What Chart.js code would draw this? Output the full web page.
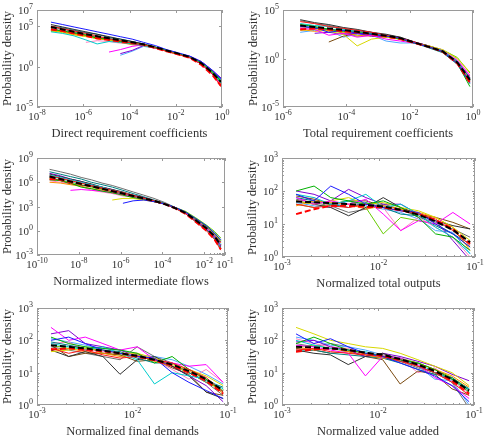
<!DOCTYPE html>
<html>
<head>
<meta charset="utf-8">
<script src="https://cdn.jsdelivr.net/npm/chart.js@4"></script>
<style>
  html, body { margin: 0; padding: 0; background: #fff; }
  #wrap { position: relative; width: 489px; height: 442px; overflow: hidden; }
  #wrap canvas { position: absolute; left: 0; top: 0; }
</style>
</head>
<body>
<div id="wrap">
  <canvas id="p1" width="489" height="442"></canvas>
  <canvas id="p2" width="489" height="442"></canvas>
  <canvas id="p3" width="489" height="442"></canvas>
  <canvas id="p4" width="489" height="442"></canvas>
  <canvas id="p5" width="489" height="442"></canvas>
  <canvas id="p6" width="489" height="442"></canvas>
</div>
<script>
// Bin centres (x) for each panel.
const directX = [4e-8, 1.3e-7, 4e-7, 1.3e-6, 4e-6, 1.3e-5, 4e-5, 1.3e-4, 4e-4, 1.3e-3, 4e-3, 1.3e-2, 4e-2, 1.3e-1, 4e-1, 0.9];
const totalX = [3.5e-6, 1e-5, 2.8e-5, 8e-5, 2.2e-4, 6.3e-4, 1.8e-3, 5e-3, 1.4e-2, 4e-2, 1.1e-1, 3.2e-1, 0.8];
const flowX = [4e-10, 1.3e-9, 4e-9, 1.3e-8, 4e-8, 1.3e-7, 4e-7, 1.3e-6, 4e-6, 1.3e-5, 4e-5, 1.3e-4, 4e-4, 1.3e-3, 4e-3, 1.3e-2, 3.2e-2, 6.3e-2];
const normX = [1.4e-3, 2.15e-3, 3.2e-3, 4.9e-3, 7.4e-3, 1.12e-2, 1.7e-2, 2.6e-2, 3.9e-2, 5.9e-2, 8.9e-2];

const directLog = [
  [5.5, 5.2, 4.9, 4.6, 4.3, 4.0, 3.7, 3.4, 3.0, 2.6, 2.1, 1.7, 1.3, 0.6, -0.5, -1.5],
  [5.0, 4.7, 4.4, 4.1, 3.8, 3.4, 3.2, 2.9, 2.7, 2.3, 1.9, 1.5, 1.1, 0.3, -1.0, -2.5],
  [4.6, 4.4, 4.2, 3.9, 3.5, 3.4, 3.1, 2.9, 2.7, 2.4, 2.0, 1.6, 1.2, 0.5, -0.7, -1.8],
  [4.3, 4.1, 3.8, 3.3, 2.8, 3.1, 3.0, 2.8, 2.6, 2.3, 2.0, 1.6, 1.2, 0.4, -0.8, -2.0],
  [null, null, null, null, null, 1.8, 2.1, 2.5, 2.7, 2.3, 2.0, 1.6, 1.1, 0.3, -1.0, -2.3],
  [4.4, 4.2, 3.9, 3.7, 3.5, 3.3, 3.1, 2.8, 2.6, 2.3, 2.0, 1.6, 1.2, 0.5, -0.7, -1.9],
  [5.2, 4.9, 4.6, 4.3, 4.0, 3.7, 3.4, 3.1, 2.8, 2.4, 2.0, 1.6, 1.2, 0.4, -0.8, -2.0],
  [null, null, null, null, null, null, 1.6, 2.0, 2.6, 2.3, 2.0, 1.6, 1.3, 0.6, -0.5, -1.4],
  [4.5, 4.3, 4.0, 3.8, 3.4, 3.3, 3.0, 2.7, 2.6, 2.3, 1.9, 1.5, 1.1, 0.3, -1.0, -2.2],
  [5.0, 4.8, 4.5, 4.2, 4.0, 3.6, 3.4, 3.1, 2.8, 2.4, 2.0, 1.6, 1.2, 0.6, -0.6, -1.7],
  [4.7, 4.4, 4.1, 3.8, 3.6, 3.3, 3.0, 2.8, 2.6, 2.3, 1.9, 1.5, 1.1, 0.3, -0.9, -2.2],
  [null, null, null, 3.0, 3.2, 3.1, 2.9, 2.8, 2.6, 2.3, 2.0, 1.6, 1.2, 0.4, -0.9, -2.1],
  [null, null, null, null, null, null, 1.4, 1.9, 2.5, 2.3, 2.0, 1.6, 1.2, 0.5, -0.6, -1.5],
  [4.9, 4.6, 4.3, 4.0, 3.7, 3.5, 3.2, 3.0, 2.7, 2.4, 2.0, 1.6, 1.2, 0.5, -0.7, -1.8],
  [4.4, 4.3, 4.1, 3.8, 3.6, 3.4, 3.2, 2.9, 2.7, 2.4, 2.0, 1.6, 1.2, 0.5, -0.8, -2.0],
];
const directMean = [4.9, 4.6, 4.3, 4.0, 3.75, 3.5, 3.25, 3.0, 2.75, 2.4, 2.0, 1.6, 1.2, 0.4, -0.8, -1.9];
const directRed = [4.6, 4.4, 4.1, 3.8, 3.5, 3.3, 3.1, 2.9, 2.7, 2.3, 1.9, 1.5, 1.1, 0.2, -1.1, -2.4];

const totalLog = [
  [3.3, 3.2, 2.7, 2.9, 2.6, 2.5, 2.3, 2.1, 1.6, 1.2, 0.7, -0.5, -2.5],
  [3.8, 3.6, 3.3, 3.1, 2.9, 2.7, 2.4, 2.1, 1.7, 1.2, 0.7, -0.5, -2.4],
  [3.5, 3.3, 3.0, 2.8, 2.7, 2.5, 2.3, 2.0, 1.6, 1.2, 0.7, -0.5, -2.9],
  [3.6, 3.4, 3.3, 3.0, 2.8, 2.6, 2.4, 2.1, 1.6, 1.2, 0.8, -0.3, -2.1],
  [3.1, 3.0, 2.4, 2.6, 2.2, 2.4, 2.0, 1.8, 1.6, 1.2, 0.8, -0.2, -1.8],
  [2.9, 3.0, 2.8, 2.5, 1.3, 2.0, 2.2, 2.0, 1.6, 1.3, 0.9, 0.0, -1.4],
  [4.0, 3.7, 3.5, 3.2, 3.0, 2.7, 2.5, 2.2, 1.7, 1.3, 0.8, -0.3, -2.0],
  [null, 2.6, 2.7, 2.5, 2.6, 2.3, 2.2, 2.1, 1.7, 1.3, 0.8, -0.3, -2.0],
  [3.0, 2.8, 2.9, 2.7, 2.4, 2.3, 2.2, 2.0, 1.6, 1.2, 0.7, -0.4, -2.2],
  [3.4, 3.1, 3.0, 2.9, 2.8, 2.6, 2.3, 2.1, 1.6, 1.1, 0.6, -0.6, -2.6],
  [null, null, 1.7, 2.3, 2.6, 2.5, 2.3, 2.1, 1.6, 1.2, 0.7, -0.4, -2.3],
  [3.2, 3.1, 2.9, 2.8, 2.6, 2.6, 2.3, 2.1, 1.7, 1.3, 0.9, -0.1, -1.7],
  [2.7, 2.9, 2.9, 2.2, 2.5, 2.4, 1.8, 1.6, 1.6, 1.2, 0.7, -0.4, -2.3],
  [3.9, 3.6, 3.4, 3.1, 2.9, 2.7, 2.4, 2.2, 1.7, 1.2, 0.7, -0.4, -2.2],
  [3.2, 3.2, 3.0, 2.6, 2.3, 2.4, 2.2, 2.0, 1.6, 1.3, 0.9, 0.1, -1.5],
];
const totalMean = [3.4, 3.25, 3.1, 2.95, 2.75, 2.55, 2.35, 2.1, 1.65, 1.2, 0.75, -0.4, -2.2];
const totalRed = [3.0, 3.1, 3.0, 2.8, 2.7, 2.5, 2.3, 2.0, 1.6, 1.2, 0.7, -0.5, -2.5];

const flowLog = [
  [null, null, null, null, null, null, null, 3.4, 3.7, 3.8, 3.6, 3.3, 2.9, 2.3, 1.5, 0.6, -0.3, -1.1],
  [6.8, 6.5, 6.2, 5.9, 5.6, 5.3, 5.0, 4.7, 4.4, 4.0, 3.7, 3.3, 2.8, 2.1, 1.1, 0.0, -1.1, -2.4],
  [6.3, 6.2, 5.9, 5.4, 5.2, 4.9, 4.7, 4.4, 4.1, 3.9, 3.6, 3.3, 2.9, 2.3, 1.5, 0.6, -0.3, -1.2],
  [6.9, 6.6, 6.3, 6.0, 5.7, 5.4, 5.0, 4.7, 4.4, 4.0, 3.7, 3.3, 2.8, 2.1, 1.1, 0.1, -1.0, -2.1],
  [null, null, 5.0, 5.1, 5.0, 4.9, 4.7, 4.5, 4.2, 3.9, 3.6, 3.3, 2.8, 2.2, 1.2, 0.3, -0.8, -1.9],
  [null, null, null, null, null, null, 3.8, 4.0, 4.0, 3.8, 3.6, 3.3, 2.8, 2.3, 1.4, 0.5, -0.4, -1.3],
  [7.0, 6.7, 6.4, 6.1, 5.8, 5.4, 5.1, 4.8, 4.4, 4.1, 3.7, 3.3, 2.8, 2.2, 1.2, 0.2, -0.9, -2.0],
  [7.1, 6.8, 6.4, 6.1, 5.7, 5.4, 5.1, 4.7, 4.4, 4.1, 3.7, 3.3, 2.9, 2.3, 1.4, 0.5, -0.5, -1.4],
  [6.0, 5.9, 5.7, 5.5, 5.2, 5.0, 4.7, 4.5, 4.2, 3.9, 3.6, 3.3, 2.8, 2.3, 1.4, 0.5, -0.5, -1.5],
  [7.3, 7.0, 6.7, 6.4, 6.0, 5.7, 5.4, 5.0, 4.6, 4.2, 3.8, 3.4, 2.9, 2.2, 1.3, 0.3, -0.7, -1.8],
  [6.6, 6.2, 5.8, 5.6, 5.5, 5.2, 4.8, 4.6, 4.3, 4.0, 3.7, 3.3, 2.8, 2.2, 1.2, 0.2, -1.0, -2.2],
  [6.2, 6.0, 5.8, 5.5, 5.0, 4.8, 4.6, 4.3, 4.2, 3.9, 3.6, 3.3, 2.8, 2.2, 1.2, 0.3, -0.8, -1.9],
  [6.7, 6.5, 6.1, 5.9, 5.5, 5.3, 5.0, 4.7, 4.3, 4.0, 3.7, 3.3, 2.9, 2.3, 1.3, 0.4, -0.6, -1.6],
  [7.6, 7.3, 7.0, 6.6, 6.3, 5.9, 5.6, 5.2, 4.8, 4.4, 4.0, 3.5, 2.9, 2.3, 1.4, 0.4, -0.6, -1.4],
  [6.5, 6.3, 6.0, 5.7, 5.4, 5.1, 4.8, 4.5, 4.2, 3.9, 3.6, 3.3, 2.9, 2.4, 1.6, 0.7, -0.1, -0.9],
];
const flowMean = [6.7, 6.4, 6.1, 5.8, 5.5, 5.2, 4.9, 4.6, 4.3, 4.0, 3.7, 3.3, 2.8, 2.2, 1.3, 0.3, -0.7, -1.8];
const flowRed = [6.4, 6.3, 6.0, 5.8, 5.5, 5.2, 4.9, 4.6, 4.3, 4.0, 3.7, 3.3, 2.8, 2.1, 1.1, 0.0, -1.1, -2.3];

const outputLog = [
  [1.9, 1.7, 2.15, 1.9, 1.6, 1.5, 1.4, 1.35, 1.0, 0.7, 0.3],
  [1.6, 1.5, 1.55, 1.5, 1.6, 1.5, 1.4, 1.3, 1.15, 0.8, 0.35],
  [2.0, 2.15, 1.8, 1.7, 1.6, 1.7, 1.5, 1.2, 0.7, 0.6, 0.2],
  [1.9, 1.8, 1.6, 1.7, 1.9, 1.5, 1.6, 1.3, 0.9, 0.6, 0.1],
  [1.8, 1.6, 1.7, 1.6, 1.75, 1.3, 0.8, 1.1, 1.0, 1.35, 1.0],
  [1.7, 1.6, 1.7, 1.8, 1.6, 1.65, 1.5, 1.4, 1.2, 0.9, 0.5],
  [1.7, 1.6, 1.5, 1.25, 1.5, 1.8, 1.5, 1.3, 1.1, 0.95, 0.85],
  [2.0, 1.9, 1.7, 2.05, 1.8, 1.6, 1.6, 1.3, 1.1, 0.5, -0.1],
  [1.55, 1.7, 1.65, 1.6, 1.45, 1.55, 1.45, 1.35, 1.2, 0.9, 0.2],
  [1.8, 1.7, 1.6, 1.5, 1.65, 1.5, 1.3, 1.25, 0.95, 0.7, 0.4],
  [1.85, 1.75, 1.6, 1.7, 1.7, 1.55, 1.45, 1.3, 1.2, 1.05, 0.85],
  [1.7, 1.8, 1.5, 1.6, 1.6, 1.5, 0.8, 1.2, 0.9, 0.6, 0.0],
  [1.65, 1.55, 1.5, 1.7, 1.55, 1.45, 1.35, 1.15, 0.8, 0.75, 0.1],
  [1.75, 1.65, 1.55, 1.35, 1.45, 1.6, 1.45, 1.2, 1.05, 0.85, 0.6],
  [1.6, 1.5, 1.6, 1.7, 1.5, 0.7, 1.2, 1.1, 1.0, 0.7, 0.3],
];
const outputMean = [1.68, 1.66, 1.63, 1.6, 1.57, 1.53, 1.43, 1.28, 1.08, 0.82, 0.45];
const outputRed = [1.3, 1.45, 1.55, 1.55, 1.52, 1.5, 1.42, 1.3, 1.12, 0.85, 0.4];

const demandLog = [
  [2.0, 2.1, 1.9, 1.7, 1.6, 1.5, 1.45, 1.0, 0.7, 0.45, 0.2],
  [1.75, 1.6, 1.7, 1.55, 1.45, 1.5, 1.4, 1.3, 1.1, 0.85, 0.4],
  [2.1, 1.9, 1.8, 1.75, 1.7, 1.6, 1.3, 1.5, 1.1, 0.8, 0.4],
  [1.9, 1.8, 1.7, 1.8, 1.6, 1.4, 0.65, 1.0, 0.9, 0.8, 0.5],
  [2.4, 2.0, 2.1, 1.9, 1.7, 1.8, 1.4, 1.3, 1.2, 1.25, 0.7],
  [1.65, 1.7, 1.75, 1.7, 1.6, 1.6, 1.45, 1.25, 1.1, 0.9, 0.6],
  [1.7, 1.5, 1.65, 1.5, 0.95, 1.4, 1.5, 1.2, 0.9, 0.4, 0.2],
  [2.2, 2.3, 1.9, 1.8, 1.7, 1.5, 1.4, 1.2, 0.9, 0.6, 0.1],
  [1.7, 1.75, 1.65, 1.6, 1.5, 1.55, 1.35, 1.2, 1.05, 0.8, 0.35],
  [1.95, 1.85, 1.75, 1.7, 1.65, 1.45, 1.3, 1.3, 1.0, 0.75, 0.55],
  [1.85, 1.5, 1.6, 1.6, 1.55, 1.35, 1.4, 1.15, 0.95, 0.4, 0.3],
  [1.9, 1.95, 1.7, 1.65, 1.6, 1.6, 1.4, 1.1, 0.8, 1.1, 0.7],
  [2.05, 1.95, 1.85, 1.75, 1.7, 1.55, 1.5, 1.4, 1.2, 0.95, 0.65],
  [1.8, 1.7, 1.6, 1.5, 1.4, 1.8, 1.5, 1.3, 1.0, 0.7, 0.3],
  [1.85, 1.75, 1.8, 1.6, 1.55, 1.5, 1.45, 1.2, 1.0, 0.7, 0.45],
];
const demandMean = [1.85, 1.8, 1.75, 1.68, 1.6, 1.52, 1.4, 1.25, 1.05, 0.8, 0.45];
const demandRed = [1.72, 1.75, 1.72, 1.66, 1.6, 1.5, 1.38, 1.22, 1.0, 0.75, 0.35];

const addedLog = [
  [2.2, 1.9, 2.05, 1.8, 1.6, 1.5, 1.3, 1.1, 0.9, 0.6, 0.1],
  [1.7, 1.75, 1.65, 1.6, 1.55, 1.5, 1.35, 1.2, 1.0, 0.7, 0.3],
  [1.9, 2.1, 1.9, 1.7, 1.6, 1.5, 1.4, 1.3, 1.1, 0.8, 0.4],
  [2.0, 1.85, 1.75, 1.7, 1.65, 1.5, 1.35, 1.3, 1.0, 0.8, 0.5],
  [1.85, 1.8, 1.7, 1.6, 0.9, 1.5, 1.45, 1.25, 0.85, 0.6, 0.2],
  [2.4, 2.2, 2.0, 1.9, 1.8, 1.75, 1.6, 1.4, 1.2, 1.0, 0.6],
  [1.7, 1.6, 1.55, 1.25, 1.5, 1.6, 1.4, 1.2, 1.0, 0.8, 0.5],
  [1.95, 2.0, 1.8, 1.7, 1.5, 1.6, 1.5, 1.35, 1.2, 0.95, 0.75],
  [1.8, 1.7, 1.75, 1.65, 1.55, 1.45, 1.4, 1.3, 1.1, 0.9, 0.55],
  [1.65, 1.7, 1.6, 1.55, 1.5, 1.45, 1.3, 1.1, 0.95, 0.85, 0.45],
  [1.75, 1.7, 1.6, 1.65, 1.5, 1.4, 0.65, 1.05, 0.95, 0.5, 0.3],
  [2.05, 1.9, 1.8, 1.75, 1.6, 1.55, 1.45, 1.0, 1.15, 0.75, 0.35],
  [2.1, 2.0, 1.85, 1.8, 1.7, 1.55, 1.45, 1.2, 0.8, 0.75, 0.0],
  [1.9, 1.8, 1.9, 1.8, 1.55, 1.45, 1.35, 1.15, 1.0, 0.7, -0.1],
  [1.8, 1.85, 1.75, 1.7, 1.6, 1.55, 1.45, 1.3, 1.1, 0.85, 0.5],
];
const addedMean = [1.8, 1.78, 1.75, 1.7, 1.62, 1.55, 1.42, 1.25, 1.05, 0.8, 0.45];
const addedRed = [1.65, 1.72, 1.75, 1.7, 1.6, 1.52, 1.4, 1.25, 1.05, 0.75, 0.35];

const palette = ["#1a1aff", "#ff1a1a", "#00b000", "#00cccc", "#ff00ff", "#d8d800", "#303030", "#8000d0",
  "#ff8c00", "#008080", "#7a4a10", "#ff80c0", "#4da6ff", "#707070", "#66cc00"];

const yTitle = "Probability density";
const FONT = "'Liberation Serif', 'Times New Roman', serif";

const panels = [
  { id: "p1", area: [37, 10, 222, 107], x: [-8, 0], y: [-5, 7], xTicks: [-8, -6, -4, -2, 0], yTicks: [7, 5, 0, -5],
    title: "Direct requirement coefficients", xs: directX, lines: directLog, mean: directMean, red: directRed },
  { id: "p2", area: [283, 10, 473, 107], x: [-6, 0], y: [-5, 5], xTicks: [-6, -4, -2, 0], yTicks: [5, 0, -5],
    title: "Total requirement coefficients", xs: totalX, lines: totalLog, mean: totalMean, red: totalRed },
  { id: "p3", area: [37, 158, 225, 255], x: [-10, -1], y: [-3, 9], xTicks: [-10, -8, -6, -4, -2, -1], yTicks: [9, 6, 3, 0, -3],
    title: "Normalized intermediate flows", xs: flowX, lines: flowLog, mean: flowMean, red: flowRed, xMinorFrom: -2 },
  { id: "p4", area: [282, 158, 475, 257], x: [-3, -1], y: [0, 3], xTicks: [-3, -2, -1], yTicks: [3, 2, 1, 0],
    title: "Normalized total outputs", xs: normX, lines: outputLog, mean: outputMean, red: outputRed, xMinorFrom: -3, yMinor: true },
  { id: "p5", area: [37, 308, 228, 405], x: [-3, -1], y: [0, 3], xTicks: [-3, -2, -1], yTicks: [3, 2, 1, 0],
    title: "Normalized final demands", xs: normX, lines: demandLog, mean: demandMean, red: demandRed, xMinorFrom: -3, yMinor: true },
  { id: "p6", area: [282, 308, 474, 405], x: [-3, -1], y: [0, 3], xTicks: [-3, -2, -1], yTicks: [3, 2, 1, 0],
    title: "Normalized value added", xs: normX, lines: addedLog, mean: addedMean, red: addedRed, xMinorFrom: -3, yMinor: true },
];

function toPoints(xs, logs) {
  return xs.map((x, i) => (logs[i] == null ? null : { x: x, y: 10 ** logs[i] })).filter(Boolean);
}

function drawPow(ctx, e, x, y, align) {
  const base = "10";
  const sup = String(e);
  ctx.font = "11px " + FONT;
  const wb = ctx.measureText(base).width;
  ctx.font = "8px " + FONT;
  const ws = ctx.measureText(sup).width;
  const x0 = align === "center" ? x - (wb + ws) / 2 : x - wb - ws;
  ctx.textAlign = "left";
  ctx.textBaseline = "alphabetic";
  ctx.font = "11px " + FONT;
  ctx.fillText(base, x0, y);
  ctx.font = "8px " + FONT;
  ctx.fillText(sup, x0 + wb, y - 5);
}

function framePlugin(p) {
  return {
    id: "frame",
    afterDraw(chart) {
      const ctx = chart.ctx;
      const a = chart.chartArea;
      const sx = chart.scales.x;
      const sy = chart.scales.y;
      ctx.save();
      ctx.strokeStyle = "#9a9a9a";
      ctx.lineWidth = 1;
      ctx.strokeRect(a.left + 0.5, a.top + 0.5, a.right - a.left - 1, a.bottom - a.top - 1);

      const tickX = (v, len) => {
        const px = Math.round(sx.getPixelForValue(v)) + 0.5;
        ctx.moveTo(px, a.bottom); ctx.lineTo(px, a.bottom - len);
        ctx.moveTo(px, a.top); ctx.lineTo(px, a.top + len);
      };
      const tickY = (v, len) => {
        const py = Math.round(sy.getPixelForValue(v)) + 0.5;
        ctx.moveTo(a.left, py); ctx.lineTo(a.left + len, py);
        ctx.moveTo(a.right, py); ctx.lineTo(a.right - len, py);
      };
      ctx.beginPath();
      p.xTicks.forEach((e) => tickX(10 ** e, 3));
      p.yTicks.forEach((e) => tickY(10 ** e, 3));
      if (p.xMinorFrom != null) {
        for (let k = p.xMinorFrom; k < p.x[1]; k++) {
          for (let m = 2; m <= 9; m++) tickX(m * 10 ** k, 2);
        }
      }
      if (p.yMinor) {
        for (let k = p.y[0]; k < p.y[1]; k++) {
          for (let m = 2; m <= 9; m++) tickY(m * 10 ** k, 2);
        }
      }
      ctx.stroke();

      ctx.fillStyle = "#333";
      p.xTicks.forEach((e) => drawPow(ctx, e, sx.getPixelForValue(10 ** e), a.bottom + 13, "center"));
      p.yTicks.forEach((e) => drawPow(ctx, e, a.left - 4, sy.getPixelForValue(10 ** e) + 4, "right"));

      ctx.font = "12.5px " + FONT;
      ctx.textAlign = "center";
      ctx.textBaseline = "middle";
      ctx.fillText(p.title, (a.left + a.right) / 2, a.bottom + 27);

      ctx.translate(a.left - 29, (a.top + a.bottom) / 2);
      ctx.rotate(-Math.PI / 2);
      ctx.fillText(yTitle, 0, 0);
      ctx.restore();
    },
  };
}

panels.forEach((p) => {
  const datasets = [
    { data: toPoints(p.xs, p.mean), borderColor: "#000", borderWidth: 2, borderDash: [6, 3] },
    { data: toPoints(p.xs, p.red), borderColor: "#ff0000", borderWidth: 2, borderDash: [6, 3] },
  ];
  p.lines.forEach((logs, i) => {
    datasets.push({ data: toPoints(p.xs, logs), borderColor: palette[i % palette.length], borderWidth: 1 });
  });

  new Chart(document.getElementById(p.id), {
    type: "line",
    data: { datasets },
    options: {
      responsive: false,
      animation: false,
      devicePixelRatio: 1,
      events: [],
      layout: { padding: { left: p.area[0], top: p.area[1], right: 489 - p.area[2], bottom: 442 - p.area[3] } },
      elements: { point: { radius: 0 }, line: { tension: 0 } },
      scales: {
        x: { type: "logarithmic", min: 10 ** p.x[0], max: 10 ** p.x[1], display: false },
        y: { type: "logarithmic", min: 10 ** p.y[0], max: 10 ** p.y[1], display: false },
      },
      plugins: { legend: { display: false }, tooltip: { enabled: false } },
    },
    plugins: [framePlugin(p)],
  });
});
</script>
</body>
</html>
